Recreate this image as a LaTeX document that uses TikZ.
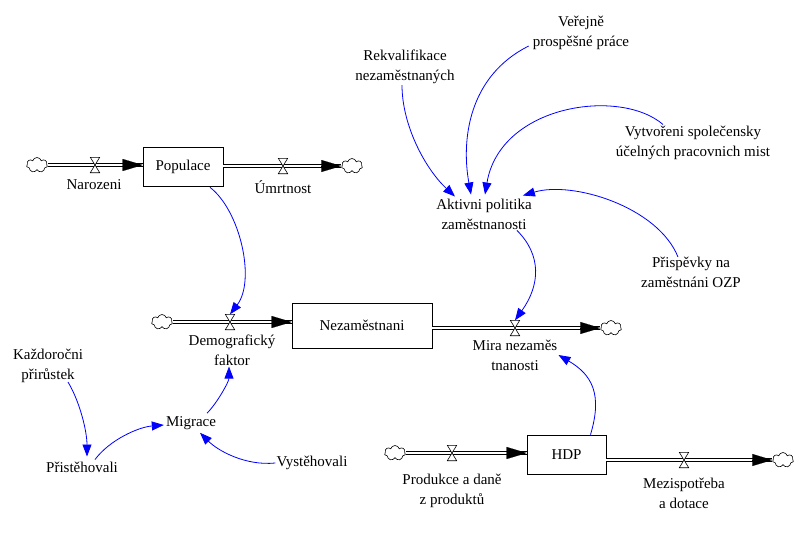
\documentclass[tikz,border=0pt]{standalone}
\usepackage{fontspec}
\setmainfont{Liberation Serif}
\usetikzlibrary{arrows.meta,calc,shapes.symbols}

\tikzset{
  stock/.style={draw, line width=0.7pt, inner sep=0pt},
  cloudy/.style={cloud, draw, cloud puffs=7, aspect=1.4, minimum width=21pt, minimum height=15pt, inner sep=0pt, line width=0.6pt},
  valve/.style={minimum width=9pt, minimum height=15pt, inner sep=0pt},
  pipe/.style={double, double distance=2.4pt, line width=0.7pt},
  flowtip/.style={-{Triangle[length=20pt,width=12pt]}, line width=0.1pt},
  link/.style={blue, line width=0.8pt, -{Triangle[length=12pt,width=9pt]}},
  lbl/.style={align=center, inner sep=1pt}
}

\begin{document}
\begin{tikzpicture}[x=1pt, y=-1pt, font=\fontsize{15}{20}\selectfont]
			\useasboundingbox (0,0) rectangle (800,549);

			% stocks
			\node [stock, minimum width=80pt, minimum height=39pt] (pop) at (183,166.5) {Populace};
			\node [stock, minimum width=140pt, minimum height=45pt] (nez) at (362,325.5) {Nezaměstnani};
			\node [stock, minimum width=79pt, minimum height=39pt] (hdp) at (566.5,454.5) {HDP};

			% clouds
			\node [cloudy] (cNar) at (37,165) {};
			\node [cloudy] (cUmr) at (352,166) {};
			\node [cloudy] (cDem) at (162,322) {};
			\node [cloudy] (cMir) at (611,328) {};
			\node [cloudy] (cPro) at (395,453) {};
			\node [cloudy] (cMez) at (783,460) {};

			% pipes
			\draw [pipe] (cNar.east) -- (cNar.east -| pop.west);
			\draw [flowtip] ($(cNar.east -| pop.west)+(-2,0)$) -- (cNar.east -| pop.west);
			\draw [pipe] (pop.east |- cUmr.west) -- (cUmr.west);
			\draw [flowtip] ($(cUmr.west)+(-2,0)$) -- (cUmr.west);
			\draw [pipe] (cDem.east) -- (cDem.east -| nez.west);
			\draw [flowtip] ($(cDem.east -| nez.west)+(-2,0)$) -- (cDem.east -| nez.west);
			\draw [pipe] (nez.east |- cMir.west) -- (cMir.west);
			\draw [flowtip] ($(cMir.west)+(-2,0)$) -- (cMir.west);
			\draw [pipe] (cPro.east) -- (cPro.east -| hdp.west);
			\draw [flowtip] ($(cPro.east -| hdp.west)+(-2,0)$) -- (cPro.east -| hdp.west);
			\draw [pipe] (hdp.east |- cMez.west) -- (cMez.west);
			\draw [flowtip] ($(cMez.west)+(-2,0)$) -- (cMez.west);

			% valves
			\node [valve] (vNar) at (95,165) {};
			\node [valve] (vUmr) at (283,166) {};
			\node [valve] (vDem) at (230,322) {};
			\node [valve] (vMir) at (515,328) {};
			\node [valve] (vPro) at (452,453) {};
			\node [valve] (vMez) at (684,460) {};
			\foreach \v in {vNar,vUmr,vDem,vMir,vPro,vMez}
				\draw [fill=white, line width=0.6pt] (\v.north west) -- (\v.north east) -- (\v.south west) -- (\v.south east) -- cycle;

			% flow labels
			\node [lbl] (nar) at (94,185) {Narozeni};
			\node [lbl] (umr) at (283,187) {Úmrtnost};
			\node [lbl] (dem) at (232,350) {Demografický\\faktor};
			\node [lbl] (mir) at (515,355) {Mira nezaměs\\tnanosti};
			\node [lbl] (pro) at (452,491) {Produkce a daně\\z produktů};
			\node [lbl] (mez) at (684,493) {Mezispotřeba\\a dotace};

			% auxiliaries
			\node [lbl] (kaz) at (48,366) {Každoročni\\přirůstek};
			\node [lbl] (mig) at (191,423) {Migrace};
			\node [lbl] (pri) at (82,467) {Přistěhovali};
			\node [lbl] (vys) at (312,463) {Vystěhovali};
			\node [lbl] (rek) at (405,67) {Rekvalifikace\\nezaměstnaných};
			\node [lbl] (ver) at (581,33) {Veřejně\\prospěšné práce};
			\node [lbl] (vyt) at (693,142.5) {Vytvořeni společensky\\účelných pracovnich mist};
			\node [lbl] (akt) at (484,214) {Aktivni politika\\zaměstnanosti};
			\node [lbl] (ozp) at (691,272.5) {Přispěvky na\\zaměstnáni OZP};

			% links
			\draw [link] ($(pop.south)+(27,1)$) .. controls +(30,23) and +(26,-34) .. (vDem.north);
			\draw [link] ($(akt.south)+(33,0)$) .. controls +(25,25) and +(25,-35) .. (vMir.north);
			\draw [link] ($(hdp.north)+(24,0)$) .. controls +(12,-40) and +(34,20) .. (mir.east);
			\draw [link] ($(rek.south)+(-3,0)$) .. controls +(0,40) and +(-30,-28) .. ($(akt.north)+(-29,-1)$);
			\draw [link] ($(ver.south west)+(-3,-5)$) .. controls +(-60,30) and +(-10,-55) .. ($(akt.north)+(-13,-3)$);
			\draw [link] ($(vyt.north)+(-30,0)$) .. controls +(-43,-37) and +(15,-90) .. ($(akt.north)+(1,-3)$);
			\draw [link] ($(ozp.north)+(-13,1)$) .. controls +(-20,-50) and +(50,-15) .. ($(akt.north east)+(-10,-2)$);
			\draw [link] ($(kaz.south)+(20,-2)$) .. controls +(12,20) and +(0,-25) .. ($(pri.north)+(5,-4)$);
			\draw [link] ($(pri.north)+(13,-1)$) .. controls +(15,-20) and +(-25,2) .. ($(mig.west)+(-1,2)$);
			\draw [link] (vys.west) .. controls +(-30,3) and +(18,18) .. ($(mig.south)+(9,2)$);
			\draw [link] ($(mig.north)+(16,-2)$) .. controls +(10,-10) and +(0,15) .. ($(dem.south)+(-3,0)$);
\end{tikzpicture}
\end{document}
